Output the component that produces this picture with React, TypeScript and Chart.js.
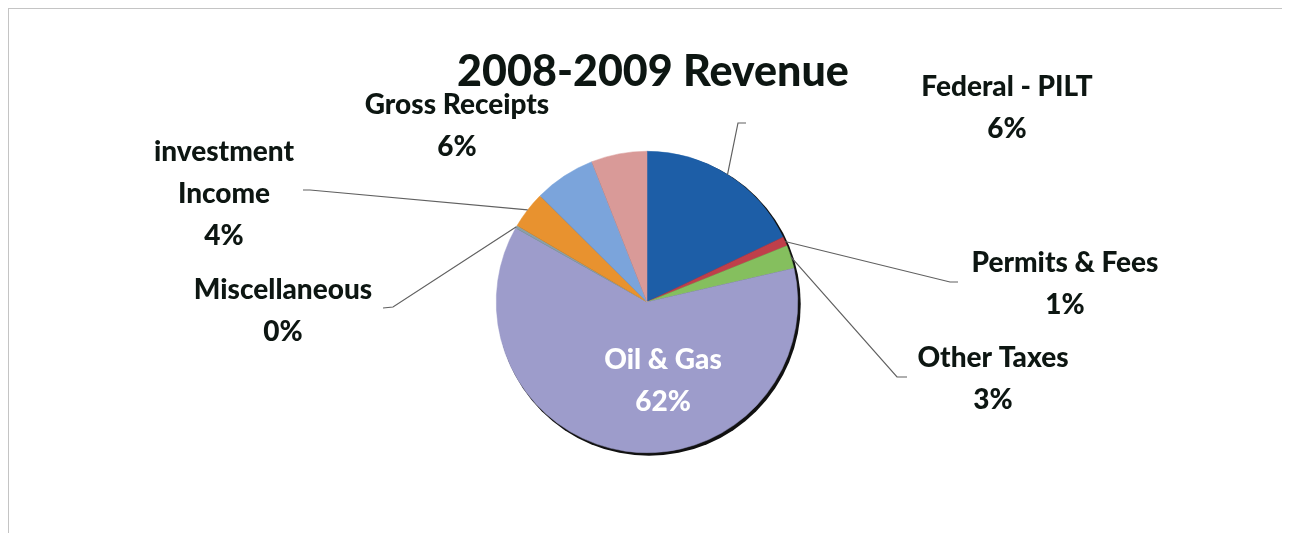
import React, { useEffect, useRef } from "react";
import { Chart, registerables } from "chart.js";

Chart.register(...registerables);

// ---- data ----
const chartTitle = "2008-2009 Revenue";
const categories = [
  "Federal - PILT",
  "Permits & Fees",
  "Other Taxes",
  "Oil & Gas",
  "Miscellaneous",
  "investment Income",
  "Gross Receipts",
  "",
];
const shares = [18, 1, 2.5, 62, 0.3, 4, 6.6, 6];
const shownPercent = ["6%", "1%", "3%", "62%", "0%", "4%", "6%", ""];
const nameLines: string[][] = [
  ["Federal - PILT"],
  ["Permits & Fees"],
  ["Other Taxes"],
  ["Oil & Gas"],
  ["Miscellaneous"],
  ["investment", "Income"],
  ["Gross Receipts"],
  [],
];

// ---- styles / layout ----
const sliceColors = [
  "#1d5ea7",
  "#bf3f4a",
  "#85bf5e",
  "#9d9ccb",
  "#8aa0a8",
  "#e8922f",
  "#7ba4db",
  "#d99a98",
];
// label centre (first line) and leader polyline points, relative to pie centre
const placement: { dx: number; dy: number; leader?: number[][]; color?: string }[] = [
  { dx: 360, dy: -215, leader: [[91, -179], [99, -179]] },
  { dx: 418, dy: -39, leader: [[303, -20], [311, -20]] },
  { dx: 346, dy: 56, leader: [[250, 75], [260, 75]] },
  { dx: 16, dy: 58, color: "#ffffff" },
  { dx: -364, dy: -12, leader: [[-254, 5], [-264, 6]] },
  { dx: -423, dy: -150, leader: [[-337, -112], [-344, -112]] },
  { dx: -190, dy: -197 },
  { dx: 0, dy: 0 },
];
const LINE_H = 42;
const FONT = "Lato, 'Open Sans', sans-serif";

const decorPlugin = {
  id: "decor",
  beforeDatasetsDraw(chart: any) {
    const meta = chart.getDatasetMeta(0);
    const a = meta.data[0];
    if (!a) return;
    const { x, y, outerRadius } = a.getProps(["x", "y", "outerRadius"], true);
    const ctx = chart.ctx;
    ctx.save();
    ctx.beginPath();
    ctx.arc(x + 2, y + 2, outerRadius + 1, 0, Math.PI * 2);
    ctx.fillStyle = "#111";
    ctx.fill();
    ctx.restore();
  },
  afterDatasetsDraw(chart: any) {
    const ctx = chart.ctx;
    const meta = chart.getDatasetMeta(0);
    const a0 = meta.data[0];
    const { x: cx, y: cy } = a0.getProps(["x", "y"], true);
    ctx.save();
    // title
    ctx.fillStyle = "#0d1612";
    ctx.font = `900 43px ${FONT}`;
    ctx.textAlign = "center";
    ctx.textBaseline = "middle";
    ctx.fillText(chartTitle, cx + 6, cy - 230);

    meta.data.forEach((arc: any, i: number) => {
      const p = placement[i];
      const lines = [...nameLines[i], shownPercent[i]].filter((s) => s);
      if (!lines.length) return;
      const { startAngle, endAngle, outerRadius } = arc.getProps(
        ["startAngle", "endAngle", "outerRadius"],
        true
      );
      if (p.leader) {
        const mid = (startAngle + endAngle) / 2;
        ctx.beginPath();
        ctx.moveTo(cx + Math.cos(mid) * outerRadius, cy + Math.sin(mid) * outerRadius);
        p.leader.forEach(([lx, ly]) => ctx.lineTo(cx + lx, cy + ly));
        ctx.strokeStyle = "#606060";
        ctx.lineWidth = 1.2;
        ctx.stroke();
      }
      ctx.fillStyle = p.color || "#0d1612";
      ctx.font = `900 28px ${FONT}`;
      lines.forEach((t, k) => {
        ctx.fillText(t, cx + p.dx, cy + p.dy + k * LINE_H);
      });
    });
    ctx.restore();
  },
};

export default function App() {
  const ref = useRef<HTMLCanvasElement>(null);
  useEffect(() => {
    if (!ref.current) return;
    const chart = new Chart(ref.current, {
      type: "pie",
      data: {
        labels: categories,
        datasets: [
          {
            data: shares,
            backgroundColor: sliceColors,
            borderColor: sliceColors,
            borderWidth: 0.5,
          },
        ],
      },
      options: {
        animation: false,
        responsive: true,
        maintainAspectRatio: false,
        layout: { padding: { left: 487, right: 492, top: 142, bottom: 80 } },
        plugins: { legend: { display: false }, tooltip: { enabled: false }, title: { display: false } },
      },
      plugins: [decorPlugin],
    });
    return () => chart.destroy();
  }, []);
  return (
    <div
      style={{
        width: 1282,
        height: 525,
        boxSizing: "border-box",
        borderTop: "1px solid #c4c4c4",
        borderLeft: "1px solid #c4c4c4",
        background: "#fff",
        overflow: "hidden",
      }}
    >
      <div style={{ position: "relative", width: 1281, height: 524 }}>
        <canvas ref={ref} />
      </div>
    </div>
  );
}
